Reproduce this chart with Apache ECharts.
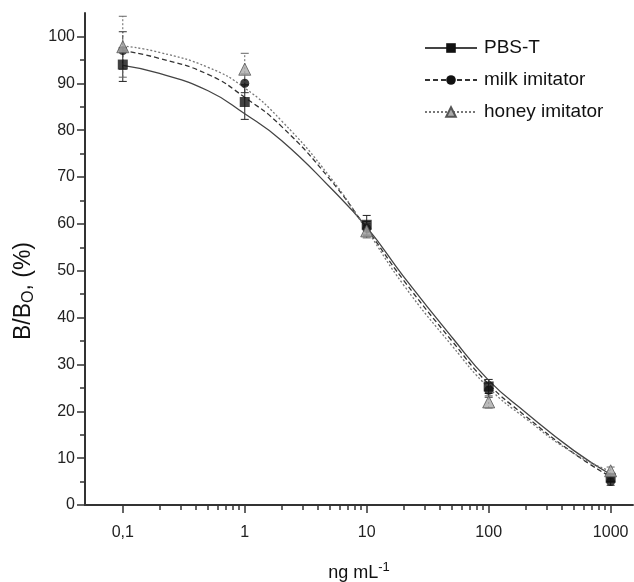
<!DOCTYPE html>
<html>
<head>
<meta charset="utf-8">
<script src="https://cdn.jsdelivr.net/npm/echarts@6/dist/echarts.min.js"></script>
<style>
  html, body { margin: 0; padding: 0; background: #fff; }
  #chart { width: 634px; height: 582px; }
</style>
</head>
<body>
<div id="chart"></div>
<script>
// measured concentrations, ng/mL
const conc = [0.1, 1, 10, 100, 1000]
// mean B/B0 (%) and error (+/-) per buffer
const pbsMean = [94, 86, 59.8, 25.3, 5.8]
const pbsErr = [3.6, 3.7, 2, 1.5, 0.8]
const milkMean = [97, 90, 59, 24.5, 5]
const milkErr = [4, 2, 1.5, 1.5, 0.8]
const honeyMean = [97.8, 93, 58.5, 22, 7.3]
const honeyErr = [6.5, 3.4, 1.5, 1.3, 0.8]

// fitted curves
const fitX = [0.1, 0.2, 0.5, 1, 2, 5, 10, 20, 50, 100, 200, 500, 1000]
const pbsFit = [93.8, 92.1, 88.4, 83.5, 77.8, 67.8, 59.3, 48.8, 35.8, 26.6, 19.8, 11.6, 6.5]
const milkFit = [97, 95.3, 91.9, 87, 80.8, 69.5, 59, 48, 35, 25.8, 19, 11, 6]
const honeyFit = [98, 96.6, 93.4, 89, 82, 70, 58.7, 47, 34, 25, 18.5, 11, 7.2]

// axis ticks
const xMajor = [0.1, 1, 10, 100, 1000]
const xMinor = [0.2, 0.3, 0.4, 0.5, 0.6, 0.7, 0.8, 0.9, 2, 3, 4, 5, 6, 7, 8, 9,
  20, 30, 40, 50, 60, 70, 80, 90, 200, 300, 400, 500, 600, 700, 800, 900]
const yMajor = [0, 10, 20, 30, 40, 50, 60, 70, 80, 90, 100]
const yMinor = [5, 15, 25, 35, 45, 55, 65, 75, 85, 95]

const font = 'Liberation Sans, Arial, sans-serif'
const axisColor = '#333'

const chart = echarts.init(document.getElementById('chart'))

function pairs(xs, ys) {
  return xs.map((x, i) => [x, ys[i]])
}

// error bars as custom series
function errorSeries(name, mean, err, color, dash) {
  return {
    name: name,
    type: 'custom',
    z: 3,
    data: conc.map((x, i) => [x, mean[i] - err[i], mean[i] + err[i]]),
    renderItem: function (params, api) {
      const lo = api.coord([api.value(0), api.value(1)])
      const hi = api.coord([api.value(0), api.value(2)])
      const w = 4
      const style = { stroke: color, lineWidth: 1, lineDash: dash }
      return {
        type: 'group',
        children: [
          { type: 'line', shape: { x1: lo[0], y1: lo[1], x2: hi[0], y2: hi[1] }, style: style },
          { type: 'line', shape: { x1: lo[0] - w, y1: lo[1], x2: lo[0] + w, y2: lo[1] }, style: { stroke: color, lineWidth: 1 } },
          { type: 'line', shape: { x1: hi[0] - w, y1: hi[1], x2: hi[0] + w, y2: hi[1] }, style: { stroke: color, lineWidth: 1 } }
        ]
      }
    }
  }
}

const option = {
  animation: false,
  backgroundColor: '#fff',
  grid: { left: 85, right: 1, top: 13, bottom: 77, outerBoundsMode: 'none' },
  legend: {
    orient: 'vertical',
    left: 419,
    top: 33,
    itemWidth: 52,
    itemHeight: 12,
    itemGap: 12,
    data: ['PBS-T', 'milk imitator', 'honey imitator'],
    textStyle: { fontFamily: font, fontSize: 19, lineHeight: 20, color: '#111', padding: [0, 0, 0, 2] }
  },
  xAxis: [
    {
      type: 'log',
      logBase: 10,
      min: 0.049,
      max: 1525,
      name: 'ng mL{sup|-1}',
      nameLocation: 'middle',
      nameGap: 56,
      nameTextStyle: {
        fontFamily: font, fontSize: 18, color: '#111',
        rich: { sup: { fontSize: 13, verticalAlign: 'top', padding: [0, 0, 12, 0], fontFamily: font, color: '#111' } }
      },
      axisLine: { lineStyle: { color: axisColor, width: 2 } },
      axisTick: { show: true, length: 8, lineStyle: { color: axisColor, width: 1.5 }, customValues: xMajor },
      axisLabel: {
        customValues: xMajor,
        margin: 20,
        fontFamily: font, fontSize: 16, color: '#222',
        formatter: v => String(Number(v.toPrecision(6))).replace('.', ',')
      },
      splitLine: { show: false }
    },
    {
      type: 'log',
      logBase: 10,
      min: 0.049,
      max: 1525,
      position: 'bottom',
      axisLine: { show: false },
      axisTick: { show: true, length: 5, lineStyle: { color: axisColor, width: 1.5 }, customValues: xMinor },
      axisLabel: { show: false },
      splitLine: { show: false }
    }
  ],
  yAxis: [
    {
      type: 'value',
      min: 0,
      max: 105,
      name: 'B/B{sub|O}, (%)',
      nameLocation: 'middle',
      nameRotate: 90,
      nameGap: 48,
      nameTextStyle: {
        fontFamily: font, fontSize: 23, color: '#111', padding: [0, 64, 0, 0],
        rich: { sub: { fontSize: 16, verticalAlign: 'bottom', padding: [10, 0, 0, 0], fontFamily: font, color: '#111' } }
      },
      axisLine: { show: true, lineStyle: { color: axisColor, width: 2 } },
      axisTick: { show: true, length: 8, lineStyle: { color: axisColor, width: 1.5 }, customValues: yMajor },
      axisLabel: { customValues: yMajor, margin: 10, fontFamily: font, fontSize: 16, color: '#222' },
      splitLine: { show: false }
    },
    {
      type: 'value',
      min: 0,
      max: 105,
      position: 'left',
      axisLine: { show: false },
      axisTick: { show: true, length: 5, lineStyle: { color: axisColor, width: 1.5 }, customValues: yMinor },
      axisLabel: { show: false },
      splitLine: { show: false }
    }
  ],
  series: [
    {
      name: 'PBS-T', type: 'line', smooth: 0.5, showSymbol: false,
      symbol: 'rect', symbolSize: 10,
      data: pairs(fitX, pbsFit),
      lineStyle: { color: '#444', width: 1.3, type: 'solid' },
      itemStyle: { color: '#111' }
    },
    {
      name: 'milk imitator', type: 'line', smooth: 0.5, showSymbol: false,
      symbol: 'circle', symbolSize: 8,
      data: pairs(fitX, milkFit),
      lineStyle: { color: '#333', width: 1.3, type: [5, 3] },
      itemStyle: { color: '#111' }
    },
    {
      name: 'honey imitator', type: 'line', smooth: 0.5, showSymbol: false,
      symbol: 'triangle', symbolSize: 12,
      data: pairs(fitX, honeyFit),
      lineStyle: { color: '#777', width: 1.3, type: [2, 2] },
      itemStyle: { color: '#aaa', borderColor: '#555', borderWidth: 1 }
    },
    errorSeries('PBS-T', pbsMean, pbsErr, '#222', null),
    errorSeries('milk imitator', milkMean, milkErr, '#333', [4, 2]),
    errorSeries('honey imitator', honeyMean, honeyErr, '#666', [2, 2]),
    {
      name: 'milk imitator', type: 'scatter', symbol: 'circle', symbolSize: 9, z: 4,
      data: pairs(conc, milkMean), itemStyle: { color: '#111' }
    },
    {
      name: 'PBS-T', type: 'scatter', symbol: 'rect', symbolSize: 10, z: 4,
      data: pairs(conc, pbsMean), itemStyle: { color: '#111' }
    },
    {
      name: 'honey imitator', type: 'scatter', symbol: 'triangle', symbolSize: 12, z: 5,
      data: pairs(conc, honeyMean), itemStyle: { color: '#aaa', borderColor: '#555', borderWidth: 1 }
    }
  ]
}

chart.setOption(option)
</script>
</body>
</html>
